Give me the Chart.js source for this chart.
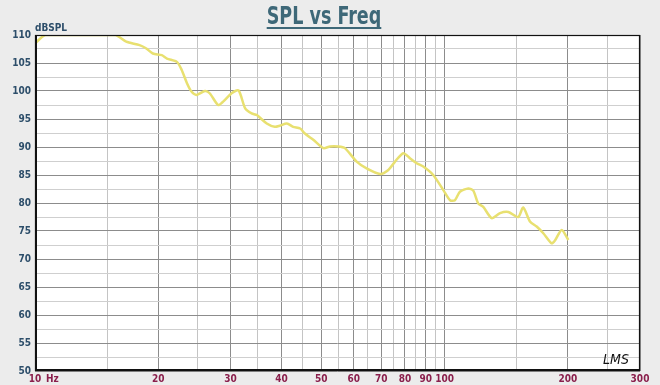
<!DOCTYPE html>
<html>
<head>
<meta charset="utf-8">
<script src="https://cdn.jsdelivr.net/npm/chart.js@4/dist/chart.umd.min.js"></script>
<style>
  html, body { margin: 0; padding: 0; background: #ececec; }
  #wrap { width: 660px; height: 385px; }
</style>
</head>
<body>
<div id="wrap"><canvas id="c" width="660" height="385"></canvas></div>
<script>
// ---- data ----
const freqs = [10.0, 10.6, 12.5, 15.7, 16.7, 18.0, 18.7, 19.4, 20.4, 21.0, 22.2, 22.8, 23.5, 24.1, 24.8,
  26.0, 26.7, 28.0, 28.8, 30.2, 31.4, 32.6, 33.8, 34.8, 36.8, 38.5, 39.6, 41.2, 42.7, 44.4, 45.6, 47.8,
  50.6, 52.5, 55.0, 57.1, 61.0, 64.5, 69.6, 72.9, 75.7, 79.3, 82.3, 85.5, 88.7, 93.8, 99.3,
  103.1, 106.0, 109.0, 114.3, 117.5, 120.9, 124.3, 130.3, 136.6, 143.1, 151.3, 155.6, 161.6,
  167.8, 174.2, 182.6, 186.0, 193.2, 200.5];
const spl = [108.5, 110, 110, 110, 108.8, 108.2, 107.6, 106.7, 106.4, 105.8, 105.2, 103.8, 101.4, 99.9, 99.3,
  100.0, 99.6, 97.5, 98.1, 99.6, 100.1, 96.9, 96.0, 95.7, 94.2, 93.6, 93.8, 94.2, 93.6, 93.3, 92.4, 91.3,
  89.8, 90.1, 90.1, 89.8, 87.4, 86.2, 85.2, 85.9, 87.4, 88.9, 88.0, 87.1, 86.5, 85.0, 82.3,
  80.5, 80.5, 82.0, 82.6, 82.2, 79.9, 79.3, 77.3, 78.2, 78.4, 77.5, 79.2, 76.7,
  75.8, 74.6, 72.8, 73.3, 75.2, 73.4];
const xGridValues = [10, 15, 20, 25, 30, 35, 40, 45, 50, 55, 60, 65, 70, 75, 80, 85, 90, 95, 100, 150, 200, 250, 300];
const xTickLabels = [10, 20, 30, 40, 50, 60, 70, 80, 90, 100, 200, 300];
const yGridValues = [50, 52.5, 55, 57.5, 60, 62.5, 65, 67.5, 70, 72.5, 75, 77.5, 80, 82.5, 85, 87.5, 90, 92.5, 95, 97.5, 100, 102.5, 105, 107.5, 110];
const yTickLabels = [50, 55, 60, 65, 70, 75, 80, 85, 90, 95, 100, 105, 110];
const titleText = "SPL vs Freq";
const yUnitText = "dBSPL";
const xUnitText = "Hz";
const signText = "LMS";

const NARROW = "'Liberation Sans Narrow', 'DejaVu Sans Condensed', 'Liberation Sans', sans-serif";

const decor = {
  id: 'decor',
  beforeDraw(chart) {
    const c = chart.ctx, a = chart.chartArea;
    c.save();
    c.fillStyle = '#ececec';
    c.fillRect(0, 0, chart.width, chart.height);
    c.fillStyle = '#ffffff';
    c.fillRect(a.left, a.top, a.right - a.left, a.bottom - a.top);
    c.restore();
  },
  afterDraw(chart) {
    const c = chart.ctx, a = chart.chartArea;
    c.save();
    // frame
    c.strokeStyle = '#111';
    c.lineWidth = 1.2;
    c.strokeRect(a.left + 0.5, a.top + 0.5, a.right - a.left - 1, a.bottom - a.top - 1);
    c.lineWidth = 2;
    c.beginPath();
    c.moveTo(a.left + 1, a.top); c.lineTo(a.left + 1, a.bottom - 1); c.lineTo(a.right, a.bottom - 1);
    c.stroke();
    c.restore();

    // title (horizontally condensed)
    c.save();
    const tx = 324, ty = 24, sx = 0.78;
    c.font = "bold 25px " + NARROW;
    c.fillStyle = '#3e6878';
    c.textAlign = 'center';
    c.textBaseline = 'alphabetic';
    c.translate(tx, ty);
    c.scale(sx, 1);
    c.fillText(titleText, 0, 0);
    const tw = c.measureText(titleText).width;
    c.fillRect(-tw / 2, 3, tw, 2);
    c.restore();

    c.save();
    // y unit
    c.font = "bold 10px " + NARROW;
    c.fillStyle = '#2d4e6a';
    c.textAlign = 'left';
    c.textBaseline = 'alphabetic';
    c.fillText(yUnitText, 35, 31);
    // x unit
    c.fillStyle = '#8a1f4c';
    c.textBaseline = 'middle';
    c.fillText(xUnitText, 46, 379);
    // signature
    c.fillStyle = '#111';
    c.font = "italic 14px 'DejaVu Sans Condensed', sans-serif";
    c.textBaseline = 'alphabetic';
    c.fillText(signText, 603, 364);
    c.restore();
  }
};

new Chart(document.getElementById('c'), {
  type: 'line',
  data: {
    datasets: [{
      data: freqs.map((f, i) => ({ x: f, y: spl[i] })),
      borderColor: '#e8e070',
      borderWidth: 2.5,
      pointRadius: 0,
      tension: 0.25,
      fill: false
    }]
  },
  options: {
    responsive: false,
    animation: false,
    layout: { padding: { top: 35, right: 20, left: 0, bottom: 0 } },
    plugins: { legend: { display: false }, tooltip: { enabled: false } },
    scales: {
      x: {
        type: 'logarithmic',
        min: 10, max: 300,
        afterBuildTicks: s => { s.ticks = xGridValues.map(v => ({ value: v })); },
        afterFit: s => { s.height = 14; },
        grid: {
          drawTicks: false,
          color: ctx => (ctx.tick && xTickLabels.includes(ctx.tick.value)) ? '#8c8c8c' : '#c4c4c4',
          lineWidth: 1
        },
        border: { display: false },
        ticks: {
          autoSkip: false, maxRotation: 0, padding: 2,
          color: '#8a1f4c',
          font: { family: NARROW, size: 10, weight: 'bold' },
          callback: v => xTickLabels.includes(v) ? String(v) : ''
        }
      },
      y: {
        min: 50, max: 110,
        afterBuildTicks: s => { s.ticks = yGridValues.map(v => ({ value: v })); },
        afterFit: s => { s.width = 35; },
        grid: {
          drawTicks: false,
          color: ctx => (ctx.tick && yTickLabels.includes(ctx.tick.value)) ? '#8c8c8c' : '#cfcfcf',
          lineWidth: 1
        },
        border: { display: false },
        ticks: {
          autoSkip: false, padding: 4,
          color: '#2d4e6a',
          font: { family: NARROW, size: 10, weight: 'bold' },
          callback: v => yTickLabels.includes(v) ? String(v) : ''
        }
      }
    }
  },
  plugins: [decor]
});
</script>
</body>
</html>
